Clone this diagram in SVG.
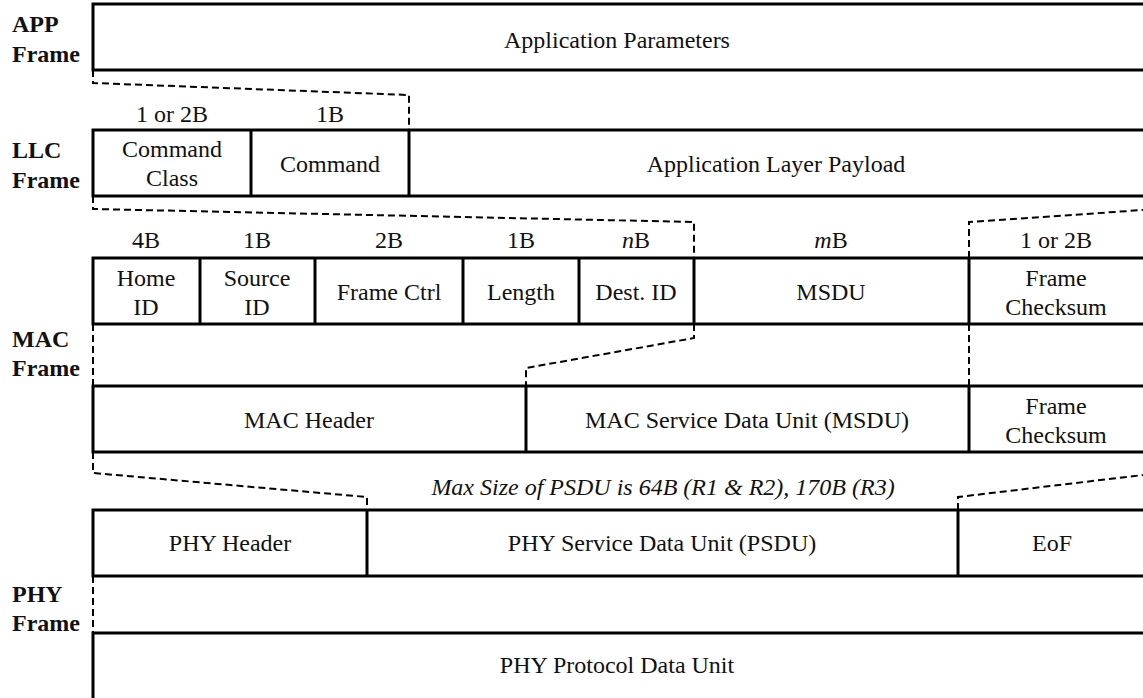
<svg xmlns="http://www.w3.org/2000/svg" width="1143" height="698" viewBox="0 0 1143 698">
<style>
.box{fill:#fff;stroke:#000;stroke-width:3}
.div{stroke:#000;stroke-width:3}
.dash{fill:none;stroke:#000;stroke-width:2;stroke-dasharray:7 4}
.t{font-family:"Liberation Serif","Times New Roman",serif;font-size:24px;fill:#111;text-anchor:middle}
.lbl{font-family:"Liberation Serif","Times New Roman",serif;font-size:24px;font-weight:bold;fill:#111}
.it{font-style:italic}
</style>
<rect width="1143" height="698" fill="#fff"/>
<g id="labels">
<text class="lbl" x="12" y="32">APP</text><text class="lbl" x="12" y="62">Frame</text>
<text class="lbl" x="12" y="158">LLC</text><text class="lbl" x="12" y="188">Frame</text>
<text class="lbl" x="12" y="347">MAC</text><text class="lbl" x="12" y="376">Frame</text>
<text class="lbl" x="12" y="602">PHY</text><text class="lbl" x="12" y="631">Frame</text>
</g>
<g id="connectors">
<polyline class="dash" points="93,70 93,83 409,95 409,130"/>
<polyline class="dash" points="93,196 93,209 694,222 694,258"/>
<polyline class="dash" points="969,258 969,222 1143,210"/>
<polyline class="dash" points="93,324 93,386"/>
<polyline class="dash" points="694,324 694,338 526,368 526,386"/>
<polyline class="dash" points="969,324 969,386"/>
<polyline class="dash" points="93,452 93,473 367,497 367,510"/>
<polyline class="dash" points="958,510 958,497 1143,475"/>
<polyline class="dash" points="93,576 93,633"/>
</g>
<g id="app">
<rect class="box" x="93" y="4" width="1060" height="66"/>
<text class="t" x="617" y="48">Application Parameters</text>
</g>
<g id="llc">
<rect class="box" x="93" y="130" width="1060" height="66"/>
<line class="div" x1="251" y1="130" x2="251" y2="196"/>
<line class="div" x1="409" y1="130" x2="409" y2="196"/>
<text class="t" x="172" y="122">1 or 2B</text>
<text class="t" x="330" y="122">1B</text>
<text class="t" x="172" y="157">Command</text><text class="t" x="172" y="186">Class</text>
<text class="t" x="330" y="172">Command</text>
<text class="t" x="776" y="172">Application Layer Payload</text>
</g>
<g id="mac-fields">
<rect class="box" x="93" y="258" width="1060" height="66"/>
<line class="div" x1="200" y1="258" x2="200" y2="324"/>
<line class="div" x1="315" y1="258" x2="315" y2="324"/>
<line class="div" x1="463" y1="258" x2="463" y2="324"/>
<line class="div" x1="579" y1="258" x2="579" y2="324"/>
<line class="div" x1="694" y1="258" x2="694" y2="324"/>
<line class="div" x1="969" y1="258" x2="969" y2="324"/>
<text class="t" x="146" y="248">4B</text>
<text class="t" x="257" y="248">1B</text>
<text class="t" x="389" y="248">2B</text>
<text class="t" x="521" y="248">1B</text>
<text class="t" x="636" y="248"><tspan class="it">n</tspan>B</text>
<text class="t" x="831" y="248"><tspan class="it">m</tspan>B</text>
<text class="t" x="1056" y="248">1 or 2B</text>
<text class="t" x="146" y="286">Home</text><text class="t" x="146" y="315">ID</text>
<text class="t" x="257" y="286">Source</text><text class="t" x="257" y="315">ID</text>
<text class="t" x="389" y="300">Frame Ctrl</text>
<text class="t" x="521" y="300">Length</text>
<text class="t" x="636" y="300">Dest. ID</text>
<text class="t" x="831" y="300">MSDU</text>
<text class="t" x="1056" y="286">Frame</text><text class="t" x="1056" y="315">Checksum</text>
</g>
<g id="mac-frame">
<rect class="box" x="93" y="386" width="1060" height="66"/>
<line class="div" x1="526" y1="386" x2="526" y2="452"/>
<line class="div" x1="969" y1="386" x2="969" y2="452"/>
<text class="t" x="309" y="428">MAC Header</text>
<text class="t" x="747" y="428">MAC Service Data Unit (MSDU)</text>
<text class="t" x="1056" y="414">Frame</text><text class="t" x="1056" y="443">Checksum</text>
</g>
<text class="t it" x="663" y="495">Max Size of PSDU is 64B (R1 &amp; R2), 170B (R3)</text>
<g id="phy">
<rect class="box" x="93" y="510" width="1060" height="66"/>
<line class="div" x1="367" y1="510" x2="367" y2="576"/>
<line class="div" x1="958" y1="510" x2="958" y2="576"/>
<text class="t" x="230" y="551">PHY Header</text>
<text class="t" x="662" y="551">PHY Service Data Unit (PSDU)</text>
<text class="t" x="1052" y="551">EoF</text>
</g>
<g id="phy-frame">
<rect class="box" x="93" y="633" width="1060" height="80"/>
<text class="t" x="617" y="673">PHY Protocol Data Unit</text>
</g>
</svg>
